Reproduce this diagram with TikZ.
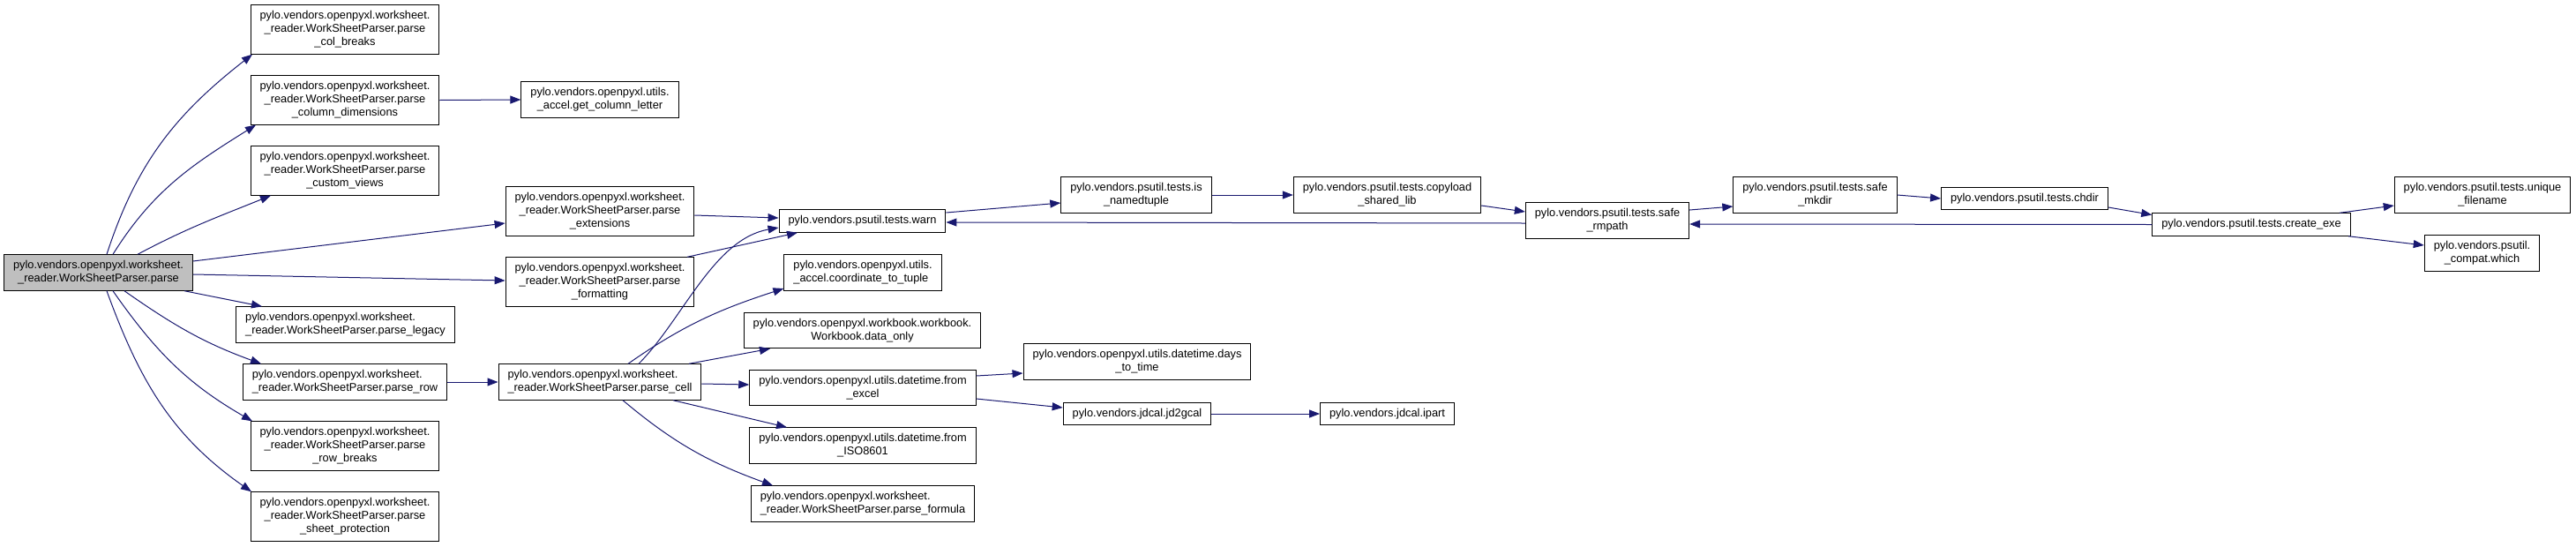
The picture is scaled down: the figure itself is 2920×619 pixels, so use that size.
\documentclass[tikz,border=0pt]{standalone}
\usepackage{fontspec}
\setmainfont{Liberation Sans}
\usepackage{xcolor}
\usepackage{tikz}
\usetikzlibrary{arrows.meta}
\definecolor{edgeblue}{RGB}{25,25,112}
\definecolor{rootgray}{RGB}{191,191,191}

\begin{document}
\begin{tikzpicture}[x=1pt,y=1pt,
  fn/.style={draw=black, line width=1pt, fill=white, inner xsep=10.5pt, inner ysep=6.75pt, align=center, font=\fontsize{12.8}{15}\selectfont},
  fnl/.style={fn, align=left},
  root/.style={fn, fill=rootgray},
  call/.style={edgeblue, line width=1pt, -{Triangle[length=12pt,width=9pt]}}]
\useasboundingbox (0,0) rectangle (2920,-619);
\node[root] (main) at (111.5,-309) {pylo.vendors.openpyxl.worksheet.\\\_reader.WorkSheetParser.parse};
\node[fn] (colbreaks) at (391,-33.5) {pylo.vendors.openpyxl.worksheet.\\\_reader.WorkSheetParser.parse\\\_col\_breaks};
\node[fn] (coldims) at (391,-113.5) {pylo.vendors.openpyxl.worksheet.\\\_reader.WorkSheetParser.parse\\\_column\_dimensions};
\node[fn] (customviews) at (391,-193.5) {pylo.vendors.openpyxl.worksheet.\\\_reader.WorkSheetParser.parse\\\_custom\_views};
\node[fnl] (legacy) at (391.5,-368) {pylo.vendors.openpyxl.worksheet.\\\_reader.WorkSheetParser.parse\_legacy};
\node[fnl] (parserow) at (391,-433) {pylo.vendors.openpyxl.worksheet.\\\_reader.WorkSheetParser.parse\_row};
\node[fn] (rowbreaks) at (391,-505.5) {pylo.vendors.openpyxl.worksheet.\\\_reader.WorkSheetParser.parse\\\_row\_breaks};
\node[fn] (sheetprot) at (391,-585.5) {pylo.vendors.openpyxl.worksheet.\\\_reader.WorkSheetParser.parse\\\_sheet\_protection};
\node[fn] (getcolletter) at (680,-113) {pylo.vendors.openpyxl.utils.\\\_accel.get\_column\_letter};
\node[fn] (extensions) at (680,-239.5) {pylo.vendors.openpyxl.worksheet.\\\_reader.WorkSheetParser.parse\\\_extensions};
\node[fn] (formatting) at (680,-319.5) {pylo.vendors.openpyxl.worksheet.\\\_reader.WorkSheetParser.parse\\\_formatting};
\node[fnl] (parsecell) at (680,-433) {pylo.vendors.openpyxl.worksheet.\\\_reader.WorkSheetParser.parse\_cell};
\node[fn] (warn) at (977.5,-250.5) {pylo.vendors.psutil.tests.warn};
\node[fnl] (coordtuple) at (978,-309) {pylo.vendors.openpyxl.utils.\\\_accel.coordinate\_to\_tuple};
\node[fn] (dataonly) at (977.5,-374.5) {pylo.vendors.openpyxl.workbook.workbook.\\Workbook.data\_only};
\node[fn] (fromexcel) at (978,-439.5) {pylo.vendors.openpyxl.utils.datetime.from\\\_excel};
\node[fn] (iso) at (978,-505) {pylo.vendors.openpyxl.utils.datetime.from\\\_ISO8601};
\node[fnl] (formula) at (978,-571) {pylo.vendors.openpyxl.worksheet.\\\_reader.WorkSheetParser.parse\_formula};
\node[fn] (isnamedtuple) at (1288,-221) {pylo.vendors.psutil.tests.is\\\_namedtuple};
\node[fn] (daystotime) at (1289,-410) {pylo.vendors.openpyxl.utils.datetime.days\\\_to\_time};
\node[fn] (jd2gcal) at (1289,-469) {pylo.vendors.jdcal.jd2gcal};
\node[fn] (copyload) at (1572.5,-221) {pylo.vendors.psutil.tests.copyload\\\_shared\_lib};
\node[fn] (ipart) at (1572.5,-469) {pylo.vendors.jdcal.ipart};
\node[fn] (saferm) at (1822,-250) {pylo.vendors.psutil.tests.safe\\\_rmpath};
\node[fn] (safemkdir) at (2057.5,-221) {pylo.vendors.psutil.tests.safe\\\_mkdir};
\node[fn] (chdir) at (2295,-225) {pylo.vendors.psutil.tests.chdir};
\node[fn] (createexe) at (2552,-254.5) {pylo.vendors.psutil.tests.create\_exe};
\node[fn] (unique) at (2814,-221) {pylo.vendors.psutil.tests.unique\\\_filename};
\node[fn] (which) at (2813.5,-287) {pylo.vendors.psutil.\\\_compat.which};
\draw[call] ([xshift=9.5]main.north) to[out=72,in=218] ([xshift=-105]colbreaks.south);
\draw[call] ([xshift=16.5]main.north) to[out=58,in=212] ([xshift=-101]coldims.south);
\draw[call] ([xshift=44.5]main.north) to[out=28,in=202] ([xshift=-84]customviews.south);
\draw[call] ([yshift=13]main.east) -- ([yshift=-13.5]extensions.west);
\draw[call] ([yshift=-2]main.east) -- ([yshift=1.5]formatting.west);
\draw[call] ([xshift=97.5]main.south) -- ([xshift=-94.5]legacy.north);
\draw[call] ([xshift=29.5]main.south) to[out=-35,in=160] ([xshift=-95]parserow.north);
\draw[call] ([xshift=16.5]main.south) to[out=-55,in=150] ([xshift=-105]rowbreaks.north);
\draw[call] ([xshift=9.5]main.south) to[out=-70,in=145] ([xshift=-106]sheetprot.north);
\draw[call] (coldims.east) -- (getcolletter.west);
\draw[call] (parserow.east) -- (parsecell.west);
\draw[call] ([yshift=-4.5]extensions.east) -- ([yshift=3.5]warn.west);
\draw[call] ([xshift=99]formatting.north) -- ([xshift=-73.5]warn.south);
\draw[call] ([xshift=44]parsecell.north) to[out=45,in=190,out distance=70,in distance=75] ([yshift=-7.5]warn.west);
\draw[call] ([xshift=32]parsecell.north) to[out=35,in=198] ([yshift=-18]coordtuple.west);
\draw[call] ([xshift=101]parsecell.north) -- ([xshift=-104.5]dataonly.south);
\draw[call] ([yshift=-2]parsecell.east) -- ([yshift=3.5]fromexcel.west);
\draw[call] ([xshift=83]parsecell.south) -- ([xshift=-86]iso.north);
\draw[call] ([xshift=26]parsecell.south) to[out=-40,in=160] ([xshift=-102]formula.north);
\draw[call] ([yshift=9.5]warn.east) -- ([yshift=-9]isnamedtuple.west);
\draw[call] (isnamedtuple.east) -- (copyload.west);
\draw[call] ([yshift=-12]copyload.east) -- ([yshift=10]saferm.west);
\draw[call] ([yshift=-3]saferm.west) -- ([yshift=-1.5]warn.east);
\draw[call] ([yshift=12]saferm.east) -- ([yshift=-13]safemkdir.west);
\draw[call] (safemkdir.east) -- (chdir.west);
\draw[call] ([yshift=-10]chdir.east) -- ([yshift=11]createexe.west);
\draw[call] (createexe.west) -- ([yshift=-4]saferm.east);
\draw[call] ([xshift=100]createexe.north) -- ([yshift=-12]unique.west);
\draw[call] ([xshift=110]createexe.south) -- ([yshift=9]which.west);
\draw[call] ([yshift=13.5]fromexcel.east) -- ([yshift=-13]daystotime.west);
\draw[call] ([yshift=-12.5]fromexcel.east) -- ([yshift=7]jd2gcal.west);
\draw[call] (jd2gcal.east) -- (ipart.west);
\end{tikzpicture}
\end{document}
